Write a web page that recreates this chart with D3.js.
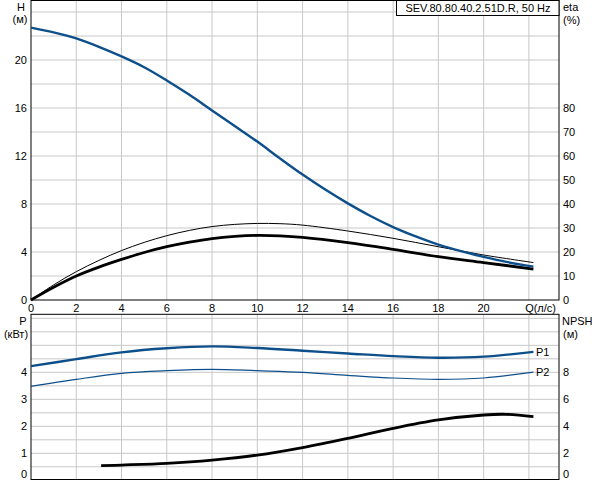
<!DOCTYPE html>
<html>
<head>
<meta charset="utf-8">
<script src="https://cdn.jsdelivr.net/npm/d3@7"></script>
<style>
  body { margin: 0; background: #fff; }
  svg { display: block; font-family: "Liberation Sans", Arial, sans-serif; font-size: 11px; }
  .grid line { stroke: #c8c8c8; stroke-width: 1; }
</style>
</head>
<body>
<svg id="chart" width="592" height="480"></svg>
<script>
// flow, l/s
var qH = [0, 1, 2, 3, 4, 5, 6, 7, 8, 9, 10, 11, 12, 13, 14, 15, 16, 17, 18, 19, 20, 21, 22.2];
var headH = [22.7, 22.3, 21.8, 21.1, 20.3, 19.4, 18.3, 17.1, 15.8, 14.5, 13.2, 11.8, 10.45, 9.2, 8.05, 7.0, 6.08, 5.3, 4.62, 4.07, 3.6, 3.18, 2.78];

var qEta = [0, 1, 2, 3, 4, 5, 6, 7, 8, 9, 10, 11, 12, 14, 16, 18, 20, 22.2];
var etaThin = [0, 6.3, 11.8, 16.5, 20.6, 24.0, 26.8, 29.0, 30.6, 31.5, 31.9, 31.8, 31.2, 28.75, 25.7, 22.2, 18.75, 15.6];
var etaThick = [0, 5.3, 10.0, 13.7, 16.9, 19.8, 22.2, 24.1, 25.6, 26.5, 26.9, 26.7, 26.1, 23.9, 21.1, 18.05, 15.6, 12.9];

var qP = [0, 2, 4, 6, 8, 10, 12, 14, 16, 18, 20, 22.2];
var powerP1 = [4.23, 4.49, 4.74, 4.89, 4.96, 4.9, 4.8, 4.7, 4.6, 4.54, 4.58, 4.76];
var powerP2 = [3.48, 3.74, 3.96, 4.06, 4.11, 4.06, 4.0, 3.89, 3.79, 3.74, 3.79, 4.01];

var qNpsh = [3.1, 4, 6, 8, 10, 12, 14, 16, 18, 20, 21, 22.2];
var npsh = [1.08, 1.13, 1.26, 1.5, 1.87, 2.43, 3.11, 3.85, 4.47, 4.84, 4.89, 4.71];

var qTicks = [0, 2, 4, 6, 8, 10, 12, 14, 16, 18, 20];
var hTicks = [0, 4, 8, 12, 16, 20];
var etaTicks = [0, 10, 20, 30, 40, 50, 60, 70, 80];
var pTicks = [0, 1, 2, 3, 4];
var npshTicks = [0, 2, 4, 6, 8];
var title = "SEV.80.80.40.2.51D.R, 50 Hz";

var blue = "#0d4f8b";
var svg = d3.select("#chart");
var left = 31, right = 559;

var x = d3.scaleLinear().domain([0, 23.33]).range([left, right]);
var yH = d3.scaleLinear().domain([0, 25]).range([300, 0]);
var yEta = d3.scaleLinear().domain([0, 125]).range([300, 0]);
var yP = d3.scaleLinear().domain([0, 6.15]).range([480.3, 314.3]);
var yN = d3.scaleLinear().domain([0, 12.3]).range([480.3, 314.3]);

// grids
var gTop = svg.append("g").attr("class", "grid");
gTop.selectAll("line.v").data(d3.range(2, 23.1, 2)).enter().append("line")
  .attr("x1", d => x(d)).attr("x2", d => x(d)).attr("y1", 0).attr("y2", 300);
gTop.selectAll("line.h").data(d3.range(2, 24.1, 2)).enter().append("line")
  .attr("x1", left).attr("x2", right).attr("y1", d => yH(d)).attr("y2", d => yH(d));

var gBot = svg.append("g").attr("class", "grid");
gBot.selectAll("line.v").data(d3.range(2, 23.1, 2)).enter().append("line")
  .attr("x1", d => x(d)).attr("x2", d => x(d)).attr("y1", 314.3).attr("y2", 479.5);
gBot.selectAll("line.h").data(d3.range(0.5, 6.01, 0.5)).enter().append("line")
  .attr("x1", left).attr("x2", right).attr("y1", d => yP(d)).attr("y2", d => yP(d));

// frames
svg.append("rect").attr("x", left).attr("y", 0.5).attr("width", right - left).attr("height", 299.5)
  .attr("fill", "none").attr("stroke", "#000");
svg.append("rect").attr("x", left).attr("y", 314.3).attr("width", right - left).attr("height", 165.2)
  .attr("fill", "none").attr("stroke", "#000");

// title box
svg.append("rect").attr("x", 396.5).attr("y", 0.5).attr("width", right - 396.5).attr("height", 15)
  .attr("fill", "#fff").attr("stroke", "#000");
svg.append("text").attr("x", 478).attr("y", 11.5).attr("text-anchor", "middle").text(title);

// curves
function drawLine(xs, ys, yScale, color, width) {
  var pts = xs.map((q, i) => [q, ys[i]]);
  svg.append("path").datum(pts)
    .attr("fill", "none").attr("stroke", color).attr("stroke-width", width)
    .attr("stroke-linejoin", "round")
    .attr("d", d3.line().curve(d3.curveCatmullRom.alpha(0.5)).x(d => x(d[0])).y(d => yScale(d[1])));
}
drawLine(qEta, etaThin, yEta, "#000", 1);
drawLine(qEta, etaThick, yEta, "#000", 2.8);
drawLine(qH, headH, yH, blue, 2.4);
drawLine(qP, powerP1, yP, blue, 2.4);
drawLine(qP, powerP2, yP, blue, 1.2);
drawLine(qNpsh, npsh, yN, "#000", 2.8);

svg.append("text").attr("x", 536).attr("y", yP(powerP1[powerP1.length - 1]) + 4).text("P1");
svg.append("text").attr("x", 536).attr("y", yP(powerP2[powerP2.length - 1]) + 4).text("P2");

// tick labels
svg.selectAll("text.q").data(qTicks).enter().append("text")
  .attr("x", d => x(d)).attr("y", 312).attr("text-anchor", "middle").text(d => d);
svg.append("text").attr("x", 556).attr("y", 312).attr("text-anchor", "end").text("Q(л/с)");

svg.selectAll("text.h").data(hTicks).enter().append("text")
  .attr("x", 27).attr("y", d => yH(d) + 4).attr("text-anchor", "end").text(d => d);
svg.selectAll("text.eta").data(etaTicks).enter().append("text")
  .attr("x", 563).attr("y", d => yEta(d) + 4).text(d => d);
svg.selectAll("text.p").data(pTicks).enter().append("text")
  .attr("x", 27).attr("y", d => Math.min(yP(d), 474) + 4).attr("text-anchor", "end").text(d => d);
svg.selectAll("text.n").data(npshTicks).enter().append("text")
  .attr("x", 563).attr("y", d => Math.min(yN(d), 474) + 4).text(d => d);

// axis titles
svg.append("text").attr("x", 21).attr("y", 11).attr("text-anchor", "middle").text("H");
svg.append("text").attr("x", 20).attr("y", 23).attr("text-anchor", "middle").text("(м)");
svg.append("text").attr("x", 563).attr("y", 11).text("eta");
svg.append("text").attr("x", 563).attr("y", 24).text("(%)");
svg.append("text").attr("x", 23).attr("y", 325).attr("text-anchor", "middle").text("P");
svg.append("text").attr("x", 16).attr("y", 338).attr("text-anchor", "middle").text("(кВт)");
svg.append("text").attr("x", 562).attr("y", 325).text("NPSH");
svg.append("text").attr("x", 563).attr("y", 338).text("(м)");
</script>
</body>
</html>
